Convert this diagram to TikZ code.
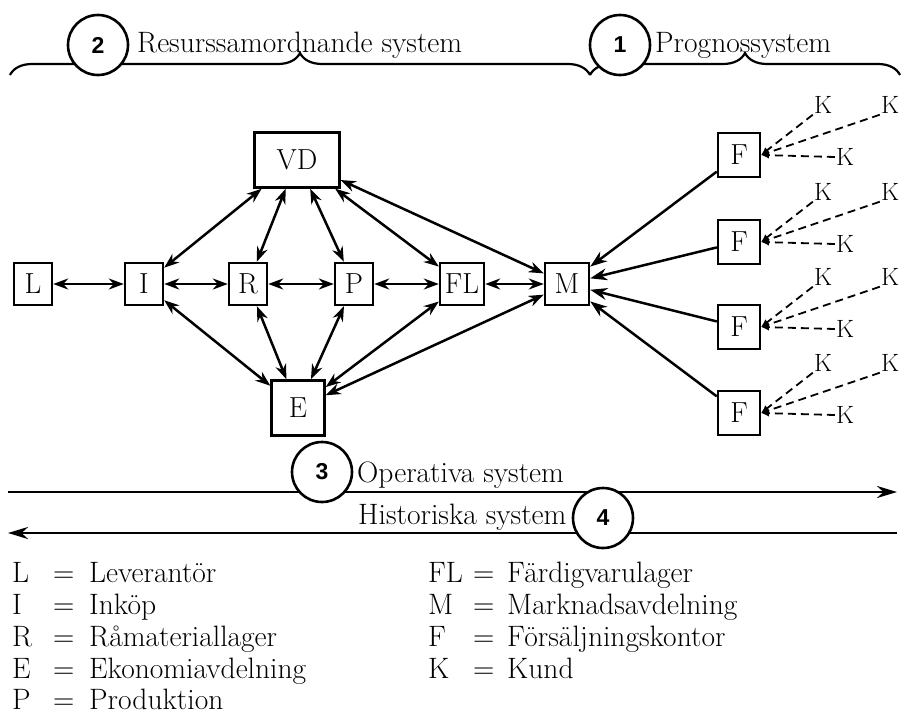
\documentclass[tikz,border=0pt]{standalone}
\usepackage{fontspec}
\newfontfamily\badgefont{Liberation Sans}
\usetikzlibrary{arrows.meta,decorations.pathreplacing}

\begin{document}
\begin{tikzpicture}[x=1pt,y=-1pt,
  txt/.style={font=\fontsize{29.5}{30}\selectfont,inner sep=0pt,anchor=base west},
  box/.style={draw,line width=2.4pt,minimum width=38pt,minimum height=42pt,
    inner sep=0pt,font=\fontsize{29}{29}\selectfont},
  link/.style={line width=2.5pt,
    {Stealth[length=15pt,width=11pt]}-{Stealth[length=15pt,width=11pt]}},
  feed/.style={line width=2.5pt,-{Stealth[length=17pt,width=12pt]}},
  kline/.style={dash pattern=on 8pt off 5pt,line width=1.8pt,
    -{Latex[length=8pt,width=7pt]}},
  kl/.style={font=\fontsize{25}{25}\selectfont,inner sep=1pt},
  badge/.style={circle,draw,line width=2.6pt,fill=white,minimum size=60pt,
    inner sep=0pt,font=\badgefont\bfseries\fontsize{23}{23}\selectfont},
  bracket/.style={line width=2.2pt,decorate,decoration={brace,amplitude=22pt}},
  flow/.style={line width=2.8pt,-{Stealth[length=20pt,width=12pt]}}
]
\useasboundingbox[fill=white] (0,0) rectangle (902,715);

% system braces along the top
\draw[bracket] (10,75) -- (590,75);
\draw[bracket] (590,75) -- (900,75);
\node[txt] (t2) at (137,52) {Resurssamordnande system};
\node[txt] (t1) at (655,52) {Prognossystem};
\node[badge] (b2) at (98,45) {2};
\node[badge] (b1) at (620,45) {1};

% main chain of departments
\node[box] (L) at (33,284) {L};
\node[box] (I) at (144,284) {I};
\node[box] (R) at (248,284) {R};
\node[box] (P) at (354,284) {P};
\node[box,minimum width=44pt] (FL) at (462,284) {FL};
\node[box,minimum width=44pt] (M) at (567,284) {M};
\node[box,minimum width=85pt,minimum height=55pt] (VD) at (297,160) {VD};
\node[box,minimum width=53pt,minimum height=55pt] (E) at (298,408) {E};

\draw[link] (L) -- (I);
\draw[link] (I) -- (R);
\draw[link] (R) -- (P);
\draw[link] (P) -- (FL);
\draw[link] (FL) -- (M);
\foreach \n in {I,R,P,FL,M} {
  \draw[link] (VD) -- (\n);
  \draw[link] (E) -- (\n);
}

% sales offices and their customers
\foreach \i/\y in {1/155,2/242,3/327,4/413} {
  \node[box,minimum width=42pt,minimum height=44pt] (F\i) at (739,\y) {F};
  \node[kl] (Ka\i) at (823,\y-50) {K};
  \node[kl] (Kb\i) at (890,\y-50) {K};
  \node[kl] (Kc\i) at (845,\y+2) {K};
  \coordinate (J\i) at (761,\y);
  \draw[kline] (Ka\i.south west) -- (J\i);
  \draw[kline] (Kb\i.south west) -- (J\i);
  \draw[kline] (Kc\i.west) -- (J\i);
  \draw[feed] (F\i) -- (M);
}

% operative and historical flows
\coordinate (oa) at (8,492);
\coordinate (ob) at (897,492);
\coordinate (ha) at (897,533);
\coordinate (hb) at (8,533);
\draw[flow] (oa) -- (ob);
\draw[flow] (ha) -- (hb);
\node[txt] (t3) at (357,482) {Operativa system};
\node[txt] (t4) at (358,524) {Historiska system};
\node[badge] (b3) at (322,472) {3};
\node[badge] (b4) at (603,518) {4};

% legend
\foreach \k/\a/\w/\y in {0/L/Leverantör/582, 1/I/Inköp/614, 2/R/Råmateriallager/646,
                         3/E/Ekonomiavdelning/678, 4/P/Produktion/709} {
  \node[txt] (la\k) at (12,\y) {\a};
  \node[txt] (le\k) at (53,\y) {=};
  \node[txt] (lw\k) at (89,\y) {\w};
}
\foreach \k/\a/\w/\y in {0/FL/Färdigvarulager/582, 1/M/Marknadsavdelning/614,
                         2/F/Försäljningskontor/646, 3/K/Kund/678} {
  \node[txt] (ra\k) at (428,\y) {\a};
  \node[txt] (re\k) at (473,\y) {=};
  \node[txt] (rw\k) at (507,\y) {\w};
}
\end{tikzpicture}
\end{document}
